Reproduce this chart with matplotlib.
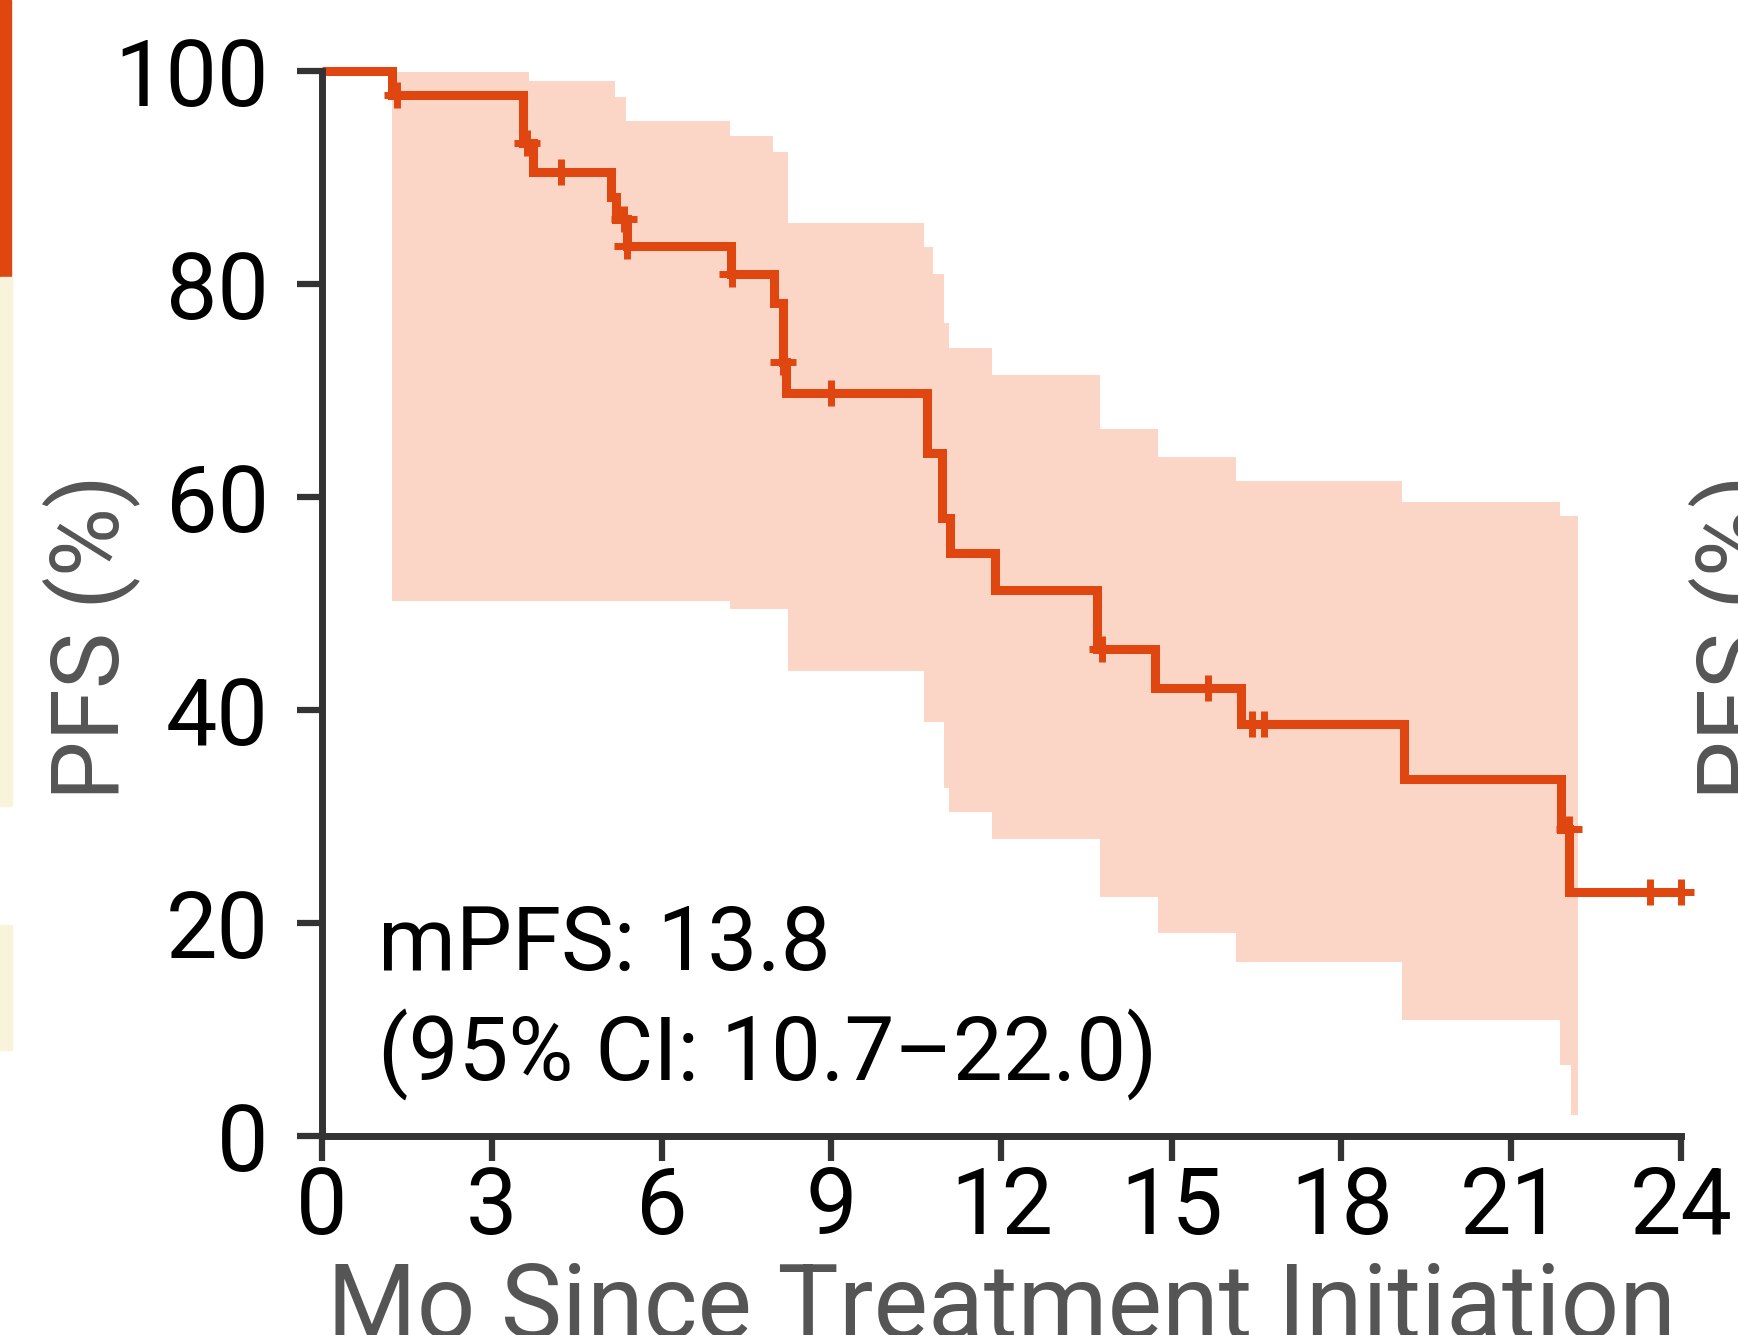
import matplotlib
matplotlib.use("Agg")
import matplotlib.pyplot as plt
from matplotlib.patches import Rectangle

# ---- data ----
step_times = [0, 1.25, 3.55, 3.73, 5.10, 5.20, 5.39, 7.23, 7.99, 8.14, 8.20,
              10.68, 10.95, 11.10, 11.88, 13.69, 14.71, 16.23, 19.11, 21.87, 22.01]
step_surv = [100, 97.7, 93.2, 90.5, 88.2, 86.1, 83.6, 80.9, 78.2, 72.7, 69.8,
             64.1, 58.0, 54.7, 51.3, 45.7, 42.1, 38.7, 33.5, 28.8, 22.9]
curve_end = 24.0

censor_t = [1.33, 3.62, 4.22, 5.34, 5.39, 7.25, 8.15, 8.99, 13.78, 15.64,
            16.42, 16.63, 22.01, 23.45, 23.99]
censor_s = [97.7, 93.2, 90.5, 86.1, 83.6, 80.9, 72.7, 69.8, 45.7, 42.1,
            38.7, 38.7, 28.8, 22.9, 22.9]

ci_t = [0, 1.25, 3.67, 5.18, 5.38, 7.20, 7.97, 8.24, 10.63, 10.79, 10.98,
        11.08, 11.84, 13.74, 14.77, 16.14, 19.07, 21.86, 22.05]
ci_hi = [100, 99.9, 99.1, 97.6, 95.3, 93.9, 92.4, 85.7, 83.5, 80.9, 76.3,
         74.0, 71.5, 66.4, 63.8, 61.5, 59.5, 58.2, 58.2]
ci_lo = [100, 50.2, 50.2, 50.2, 50.2, 49.5, 49.5, 43.7, 38.9, 38.9, 32.7,
         30.4, 27.9, 22.4, 19.1, 16.3, 10.9, 6.7, 2.0]
ci_end = 22.17

x_ticks = [0, 3, 6, 9, 12, 15, 18, 21, 24]
y_ticks = [0, 20, 40, 60, 80, 100]
x_label = "Mo Since Treatment Initiation"
y_label = "PFS (%)"
annot_1 = "mPFS: 13.8"
annot_2 = "(95% CI: 10.7\u201322.0)"

# ---- style ----
LINE = "#E0460F"
FILL = "#FBD6C7"
SPINE = "#333333"
LABEL = "#555555"
plt.rcParams["font.family"] = ["Roboto", "DejaVu Sans"]

W, H = 1738, 1335
fig = plt.figure(figsize=(W / 100, H / 100), dpi=100)
fig.patch.set_facecolor("white")

# crop artifacts of neighbouring panels at the left edge
fig.patches.append(Rectangle((0, 1 - 277 / H), 11 / W, 277 / H,
                             transform=fig.transFigure, color=LINE, zorder=0))
fig.patches.append(Rectangle((0, 1 - 806 / H), 12 / W, (806 - 277) / H,
                             transform=fig.transFigure, color="#FAF3DC", zorder=0))
fig.patches.append(Rectangle((0, 1 - 1050 / H), 12 / W, (1050 - 925) / H,
                             transform=fig.transFigure, color="#FAF3DC", zorder=0))

ax = fig.add_axes([321.5 / W, 1 - 1136 / H, 1360 / W, 1065 / H])

# CI band
ax.fill_between(ci_t + [ci_end], ci_lo + [ci_lo[-1]], ci_hi + [ci_hi[-1]],
                step="post", color=FILL, lw=0, zorder=1)

# KM curve
ax.plot(step_times + [curve_end], step_surv + [step_surv[-1]],
        drawstyle="steps-post", color=LINE, lw=6.5, zorder=3, clip_on=False,
        solid_joinstyle="miter", solid_capstyle="butt")
ax.plot(censor_t, censor_s, ls="none", marker="+", ms=19, mew=5,
        color=LINE, zorder=4, clip_on=False)

ax.set_xlim(0, 24)
ax.set_ylim(0, 100)
ax.set_xticks(x_ticks)
ax.set_yticks(y_ticks)
ax.set_xticklabels([str(v) for v in x_ticks])
ax.set_yticklabels([str(v) for v in y_ticks])

for s in ["top", "right"]:
    ax.spines[s].set_visible(False)
for s in ["left", "bottom"]:
    ax.spines[s].set_color(SPINE)
    ax.spines[s].set_linewidth(5)
    ax.spines[s].set_zorder(5)

ax.tick_params(axis="both", direction="out", length=18, width=4.5,
               color=SPINE, labelsize=66, labelcolor="black")
ax.tick_params(axis="y", pad=20)
ax.tick_params(axis="x", pad=2)
ax.set_facecolor("none")

ax.text(1.0, 15.6, annot_1, fontsize=64, color="black", va="baseline", ha="left")
ax.text(1.0, 5.2, annot_2, fontsize=64, color="black", va="baseline", ha="left")

fig.text(91 / W, 1 - 637 / H, y_label, rotation=90, fontsize=68, color=LABEL,
         ha="center", va="center")
fig.text(1688 / W, 1 - 637 / H, y_label, rotation=90, fontsize=68, color=LABEL,
         ha="left", va="center")
fig.text(1001.5 / W, -3 / H, x_label, fontsize=74, color=LABEL,
         ha="center", va="baseline")

fig.savefig("out.png", dpi=100)
